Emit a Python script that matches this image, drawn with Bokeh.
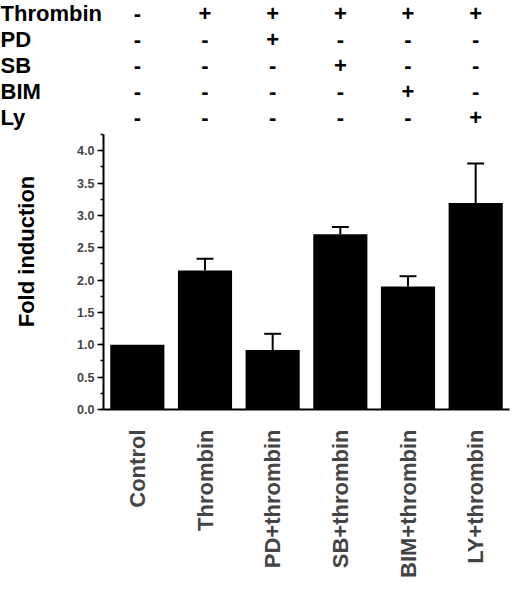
import math
from bokeh.plotting import figure
from bokeh.models import Range1d, SingleIntervalTicker, FixedTicker, PrintfTickFormatter
from bokeh.core.properties import value
from bokeh.embed import file_html
from bokeh.resources import INLINE

# ---------------- data ----------------
groups = ["Control", "Thrombin", "PD+thrombin", "SB+thrombin", "BIM+thrombin", "LY+thrombin"]
fold = [1.00, 2.15, 0.92, 2.71, 1.90, 3.19]
sem = [0.00, 0.18, 0.25, 0.11, 0.16, 0.61]

treat_rows = ["Thrombin", "PD", "SB", "BIM", "Ly"]
treat_thrombin = ["-", "+", "+", "+", "+", "+"]
treat_pd = ["-", "-", "+", "-", "-", "-"]
treat_sb = ["-", "-", "-", "+", "-", "-"]
treat_bim = ["-", "-", "-", "-", "+", "-"]
treat_ly = ["-", "-", "-", "-", "-", "+"]
treat_table = [treat_thrombin, treat_pd, treat_sb, treat_bim, treat_ly]

y_label = "Fold induction"
y_tick_interval = 0.5
y_axis_max = 4.25

# ---------------- layout constants (pixels) ----------------
FONT = value("Liberation Sans")
W, H = 512, 579
AXIS_LEFT_PX = 103          # y axis position from the left edge
RIGHT_PAD_PX = 3
AXIS_TOP_PX = 134           # y = y_axis_max position from the top
ZERO_PX = 409               # y = 0 position from the top
ROW0_PX, ROW_STEP_PX = 12.5, 26.0
YLABEL_X_PX, YLABEL_Y_PX = 25.5, 251

n = len(groups)
x_lo, x_hi = -0.5, n - 0.5
px_per_x = (W - AXIS_LEFT_PX - RIGHT_PAD_PX) / n
x_start = x_lo - AXIS_LEFT_PX / px_per_x
x_end = x_hi + RIGHT_PAD_PX / px_per_x
px_per_y = (ZERO_PX - AXIS_TOP_PX) / y_axis_max
y_end = ZERO_PX / px_per_y
y_start = -(H - ZERO_PX) / px_per_y

def y_from_top(px):
    return y_end - px / px_per_y

def x_from_left(px):
    return x_start + px / px_per_x

p = figure(width=W, height=H,
           x_range=Range1d(x_start, x_end), y_range=Range1d(y_start, y_end),
           output_backend="svg", toolbar_location=None,
           min_border_left=0, min_border_right=0, min_border_top=0,
           min_border_bottom=0)
p.outline_line_color = None
p.grid.visible = False

# ---------------- treatment table ----------------
row_y = [y_from_top(ROW0_PX + ROW_STEP_PX * r) for r in range(len(treat_rows))]
p.text(x=[x_start] * len(treat_rows), y=row_y, text=treat_rows,
       text_font=FONT, text_font_style="bold", text_font_size="22px",
       text_align="left", text_baseline="middle", text_color="black")

cx, cy, ct = [], [], []
for r, row in enumerate(treat_table):
    for c, s in enumerate(row):
        cx.append(c)
        cy.append(row_y[r])
        ct.append(s)
p.text(x=cx, y=cy, text=ct, text_font=FONT, text_font_style="bold", text_font_size="22px",
       text_align="center", text_baseline="middle", text_color="black")

# ---------------- bars ----------------
idx = list(range(n))
p.vbar(x=idx, top=fold, width=0.8, bottom=0, fill_color="black", line_color=None)

ex = [i for i in idx if sem[i] > 0]
lo = [fold[i] for i in ex]
hi = [fold[i] + sem[i] for i in ex]
p.segment(x0=ex, y0=lo, x1=ex, y1=hi, line_color="black", line_width=2)
p.segment(x0=[i - 0.125 for i in ex], y0=hi, x1=[i + 0.125 for i in ex], y1=hi,
          line_color="black", line_width=2)

# y axis title as rotated text, left of the axis
p.text(x=[x_from_left(YLABEL_X_PX)], y=[y_from_top(YLABEL_Y_PX)], text=[y_label],
       angle=math.pi / 2, text_font=FONT, text_font_style="bold", text_font_size="22px",
       text_align="center", text_baseline="middle", text_color="black")

# ---------------- y axis ----------------
ya = p.yaxis[0]
ya.fixed_location = x_lo
ya.bounds = (0, y_axis_max)
ya.ticker = SingleIntervalTicker(interval=y_tick_interval, num_minor_ticks=2)
ya.formatter = PrintfTickFormatter(format="%.1f")
ya.major_label_text_font = "Liberation Sans"
ya.major_label_text_font_style = "bold"
ya.major_label_text_font_size = "12.5px"
ya.major_label_standoff = 3
ya.major_tick_in = 0
ya.major_tick_out = 6
ya.minor_tick_in = 0
ya.minor_tick_out = 3
ya.axis_line_width = 2
ya.major_tick_line_width = 1.5
ya.minor_tick_line_width = 1.5
ya.axis_line_color = "black"

# ---------------- x axis ----------------
xa = p.xaxis[0]
xa.fixed_location = 0
xa.bounds = (x_lo, x_hi)
xa.ticker = FixedTicker(ticks=idx, minor_ticks=[])
xa.major_label_overrides = {i: g for i, g in enumerate(groups)}
xa.major_label_orientation = math.pi / 2
xa.major_label_text_font = "Liberation Sans"
xa.major_label_text_font_style = "bold"
xa.major_label_text_font_size = "22px"
xa.major_label_standoff = 20
xa.major_tick_in = 0
xa.major_tick_out = 0
xa.minor_tick_in = 0
xa.minor_tick_out = 0
xa.axis_line_width = 2
xa.axis_line_color = "black"

open("out.html", "w").write(file_html(p, INLINE))
